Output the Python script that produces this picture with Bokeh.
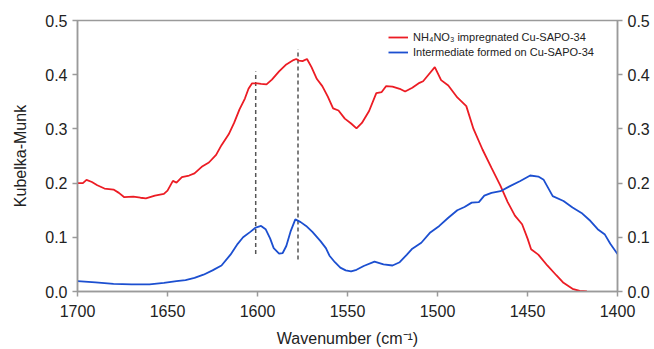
from bokeh.plotting import figure
from bokeh.models import Range1d, LinearAxis, Legend, LegendItem, FixedTicker, NumeralTickFormatter
from bokeh.embed import file_html
from bokeh.resources import INLINE

red_x = [1700, 1697, 1695, 1692, 1689, 1685, 1680, 1677, 1674, 1669, 1665, 1662, 1657, 1652, 1650,
         1647, 1645, 1642, 1638, 1635, 1631, 1627, 1623, 1620, 1616, 1613, 1610, 1607, 1605, 1603,
         1600, 1598, 1595, 1592, 1588, 1584, 1580, 1578.5, 1577, 1575, 1572.5, 1570, 1567, 1564,
         1561, 1558, 1555, 1551.5, 1548, 1545, 1542, 1538, 1534, 1531, 1528.5, 1525, 1521, 1518,
         1514, 1510, 1508, 1505, 1501.5, 1498, 1494, 1489, 1484, 1480, 1475, 1470, 1465, 1461,
         1457, 1453, 1450, 1448, 1444, 1439, 1434, 1430, 1425, 1421, 1417]
red_y = [0.200, 0.200, 0.206, 0.202, 0.196, 0.190, 0.188, 0.182, 0.174, 0.175, 0.173, 0.172, 0.177,
         0.180, 0.186, 0.204, 0.201, 0.211, 0.214, 0.218, 0.230, 0.238, 0.252, 0.270, 0.290, 0.311,
         0.336, 0.356, 0.374, 0.384, 0.384, 0.383, 0.382, 0.391, 0.406, 0.419, 0.427, 0.429, 0.426,
         0.425, 0.429, 0.414, 0.392, 0.379, 0.360, 0.338, 0.334, 0.319, 0.310, 0.301, 0.311, 0.333,
         0.366, 0.368, 0.379, 0.378, 0.374, 0.369, 0.376, 0.385, 0.388, 0.400, 0.414, 0.390, 0.380,
         0.358, 0.342, 0.300, 0.262, 0.228, 0.195, 0.165, 0.140, 0.124, 0.098, 0.078, 0.068, 0.048,
         0.030, 0.016, 0.005, 0.001, 0.000]

blue_x = [1700, 1690, 1680, 1670, 1660, 1652, 1645, 1640, 1635, 1630, 1625, 1620, 1615, 1611, 1608,
          1604, 1601, 1598, 1595.5, 1593, 1591, 1588, 1586, 1584, 1581.5, 1579, 1576, 1573, 1569.5,
          1565, 1562, 1560, 1557, 1554, 1551, 1548, 1545, 1541, 1535, 1530, 1525, 1521, 1517, 1514,
          1509, 1504, 1499, 1494, 1489, 1485, 1481, 1477, 1474, 1470, 1465, 1460, 1454, 1448.5,
          1444, 1441, 1436, 1430, 1425, 1420, 1415, 1411, 1407, 1404, 1400]
blue_y = [0.019, 0.017, 0.014, 0.013, 0.013, 0.016, 0.019, 0.021, 0.025, 0.031, 0.039, 0.048, 0.068,
          0.088, 0.100, 0.110, 0.118, 0.121, 0.115, 0.098, 0.080, 0.070, 0.071, 0.084, 0.112, 0.133,
          0.128, 0.121, 0.110, 0.093, 0.080, 0.066, 0.054, 0.044, 0.039, 0.037, 0.040, 0.047, 0.055,
          0.050, 0.048, 0.054, 0.068, 0.079, 0.090, 0.109, 0.121, 0.136, 0.150, 0.156, 0.164, 0.165,
          0.177, 0.182, 0.185, 0.194, 0.204, 0.214, 0.212, 0.206, 0.176, 0.167, 0.155, 0.145, 0.130,
          0.115, 0.105, 0.088, 0.069]

dash_x = [1601, 1577.5]
dash_top = [0.406, 0.447]
dash_bottom = [0.069, 0.059]

x_ticks = [1700, 1650, 1600, 1550, 1500, 1450, 1400]
y_ticks = [0.0, 0.1, 0.2, 0.3, 0.4, 0.5]

red_label = "NH\u2084NO\u2083 impregnated Cu-SAPO-34"
blue_label = "Intermediate formed on Cu-SAPO-34"

FONT = "Liberation Sans"
AX_COLOR = "#9a9a9a"
TXT = "#222222"

p = figure(width=654, height=349, output_backend="svg", toolbar_location=None,
           x_range=Range1d(1700, 1400), y_range=Range1d(0, 0.5),
           min_border_left=77, min_border_right=37, min_border_top=20, min_border_bottom=57)
p.background_fill_color = "white"
p.border_fill_color = "white"
p.grid.visible = False
p.outline_line_color = AX_COLOR
p.outline_line_width = 1.5

for i in range(len(dash_x)):
    p.segment(x0=[dash_x[i]], y0=[dash_bottom[i]], x1=[dash_x[i]], y1=[dash_top[i]],
              line_color="#555555", line_width=1.5, line_dash="4 3")

r_red = p.line(red_x, red_y, line_color="#ec1c24", line_width=1.8)
r_blue = p.line(blue_x, blue_y, line_color="#1c4fd0", line_width=1.8)

def style_axis(ax):
    ax.axis_line_color = AX_COLOR
    ax.axis_line_width = 1.5
    ax.major_tick_line_color = AX_COLOR
    ax.major_tick_line_width = 1.5
    ax.major_tick_out = 5
    ax.major_tick_in = 0
    ax.minor_tick_line_color = None
    ax.major_label_text_font = FONT
    ax.major_label_text_font_size = "16px"
    ax.major_label_text_color = TXT
    ax.axis_label_text_font = FONT
    ax.axis_label_text_font_size = "16px"
    ax.axis_label_text_font_style = "normal"
    ax.axis_label_text_color = TXT

xa = p.xaxis[0]
xa.ticker = FixedTicker(ticks=x_ticks)
xa.axis_label = "Wavenumber (cm\u207b\u00b9)"
style_axis(xa)
xa.major_label_standoff = 8
xa.axis_label_standoff = 10

ya = p.yaxis[0]
ya.ticker = FixedTicker(ticks=y_ticks)
ya.axis_label = "Kubelka-Munk"
ya.formatter = NumeralTickFormatter(format="0.0")
style_axis(ya)
ya.axis_label_standoff = 13

ra = LinearAxis(ticker=FixedTicker(ticks=y_ticks), formatter=NumeralTickFormatter(format="0.0"))
style_axis(ra)
p.add_layout(ra, "right")

legend = Legend(items=[LegendItem(label=red_label, renderers=[r_red]),
                       LegendItem(label=blue_label, renderers=[r_blue])],
                location=(311, 233))
legend.border_line_color = None
legend.background_fill_alpha = 0
legend.label_text_font = FONT
legend.label_text_font_size = "11px"
legend.label_text_color = TXT
legend.glyph_width = 20
legend.glyph_height = 12
legend.label_height = 12
legend.spacing = 3
legend.padding = 4
legend.margin = 0
legend.label_standoff = 5
p.add_layout(legend)

open("out.html", "w").write(file_html(p, INLINE))
